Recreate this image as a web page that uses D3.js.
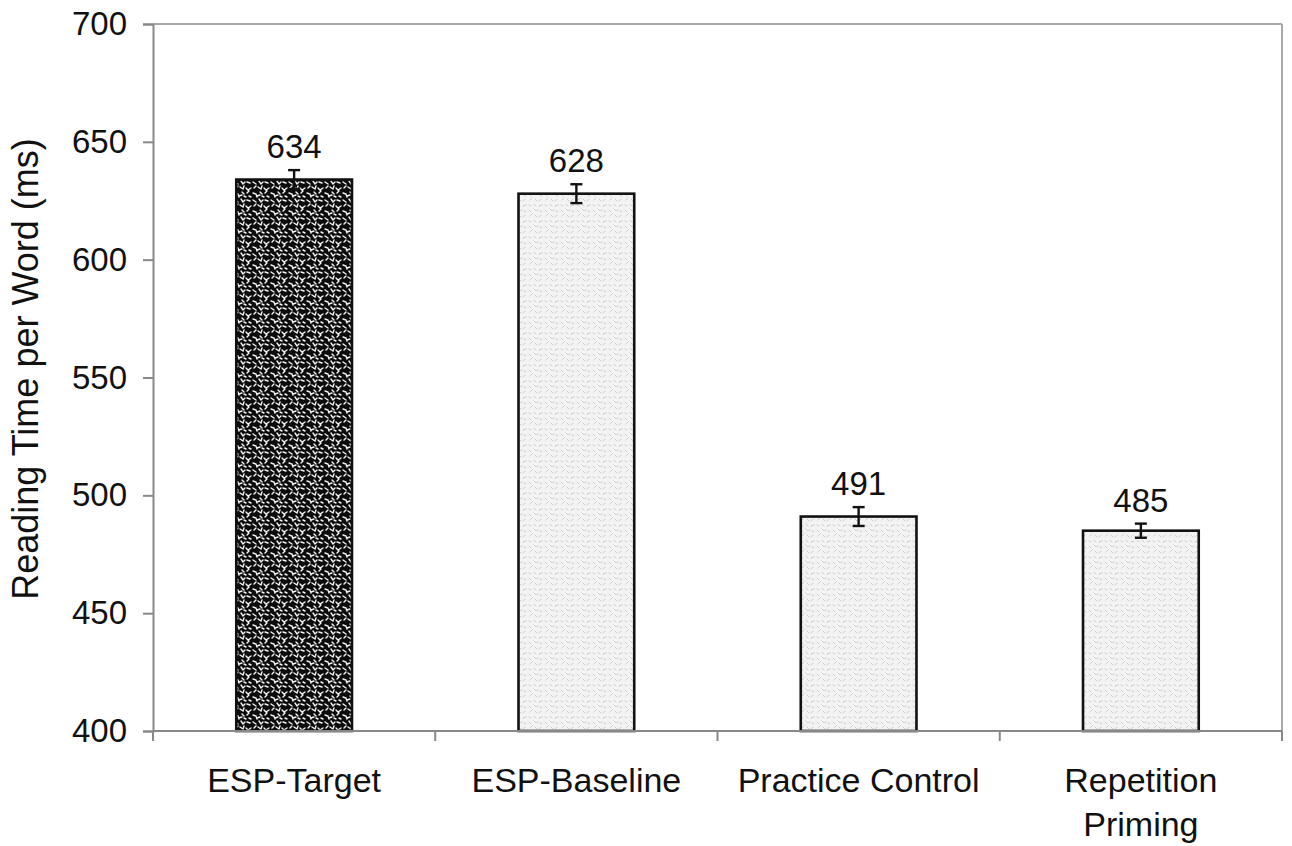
<!DOCTYPE html>
<html>
<head>
<meta charset="utf-8">
<script src="https://cdn.jsdelivr.net/npm/d3@7"></script>
<style>
  html, body { margin: 0; padding: 0; background: #fff; }
  svg { display: block; }
  text { font-family: "Liberation Sans", Arial, sans-serif; fill: #111; }
</style>
</head>
<body>
<svg id="chart" width="1292" height="846"></svg>
<script>
// ---- data ----
const categories = ["ESP-Target", "ESP-Baseline", "Practice Control", "Repetition Priming"];
const categoryLines = [["ESP-Target"], ["ESP-Baseline"], ["Practice Control"], ["Repetition", "Priming"]];
const meanRT = [634, 628, 491, 485];
const stdErr = [4, 4, 4, 3];
const valueLabels = ["634", "628", "491", "485"];
const yTicks = [400, 450, 500, 550, 600, 650, 700];
const yTitle = "Reading Time per Word (ms)";

// ---- layout ----
const svg = d3.select("#chart");
const m = { left: 153, right: 1282, top: 24, bottom: 731 };

const x = d3.scaleBand().domain(categories).range([m.left, m.right])
  .paddingInner(0.59).paddingOuter(0.295);
const y = d3.scaleLinear().domain([400, 700]).range([m.bottom, m.top]);

// ---- patterns ----
const defs = svg.append("defs");
const dark = defs.append("pattern").attr("id", "darkPat").attr("patternUnits", "userSpaceOnUse")
  .attr("width", 18).attr("height", 18);
dark.append("rect").attr("width", 18).attr("height", 18).attr("fill", "#0c0c0c");
const darkMarks = "M1,2 l3,2 M7,1 l2,3 l2,-2 M13,2 l3,1 M2,8 l2,-2 M6,7 l3,2 l1,-3 M12,8 l2,2 l3,-2 M1,13 l3,1 l1,3 M8,12 l2,2 M13,13 l2,-2 M15,16 l2,1 M5,16 l3,-1 M10,16 l2,1";
dark.append("path").attr("d", darkMarks).attr("stroke", "#f4f4f4").attr("stroke-width", 1.4)
  .attr("fill", "none").attr("stroke-linecap", "round");

const light = defs.append("pattern").attr("id", "lightPat").attr("patternUnits", "userSpaceOnUse")
  .attr("width", 16).attr("height", 16);
light.append("rect").attr("width", 16).attr("height", 16).attr("fill", "#f3f3f3");
const lightMarks = "M1,2 l2,2 M6,1 l2,2 l2,-1 M12,3 l2,1 M2,8 l2,-2 M7,7 l2,2 M11,9 l2,-2 M1,13 l2,1 M6,12 l2,2 M11,14 l3,-1";
light.append("path").attr("d", lightMarks).attr("stroke", "#cccccc").attr("stroke-width", 1)
  .attr("fill", "none").attr("stroke-linecap", "round");

// ---- frame (top & right) ----
svg.append("line").attr("x1", m.left).attr("x2", m.right).attr("y1", m.top).attr("y2", m.top)
  .attr("stroke", "#a8a8a8").attr("stroke-width", 2);
svg.append("line").attr("x1", m.right).attr("x2", m.right).attr("y1", m.top).attr("y2", m.bottom)
  .attr("stroke", "#a8a8a8").attr("stroke-width", 2);

// ---- bars ----
svg.append("g").selectAll("rect").data(categories).join("rect")
  .attr("x", d => x(d))
  .attr("width", x.bandwidth())
  .attr("y", (d, i) => y(meanRT[i]))
  .attr("height", (d, i) => y(400) - y(meanRT[i]))
  .attr("fill", (d, i) => i === 0 ? "url(#darkPat)" : "url(#lightPat)")
  .attr("stroke", "#111").attr("stroke-width", 2.6);

// ---- error bars ----
const eb = svg.append("g").attr("stroke", "#111").attr("stroke-width", 2.4);
categories.forEach((c, i) => {
  const cx = x(c) + x.bandwidth() / 2;
  const y1 = y(meanRT[i] + stdErr[i]), y2 = y(meanRT[i] - stdErr[i]);
  eb.append("line").attr("x1", cx).attr("x2", cx).attr("y1", y1).attr("y2", y2);
  eb.append("line").attr("x1", cx - 6).attr("x2", cx + 6).attr("y1", y1).attr("y2", y1);
  eb.append("line").attr("x1", cx - 6).attr("x2", cx + 6).attr("y1", y2).attr("y2", y2);
});

// ---- value labels ----
svg.append("g").selectAll("text").data(categories).join("text")
  .attr("x", d => x(d) + x.bandwidth() / 2)
  .attr("y", (d, i) => y(meanRT[i] + stdErr[i]) - 12)
  .attr("text-anchor", "middle")
  .attr("font-size", 33)
  .text((d, i) => valueLabels[i]);

// ---- y axis ----
const yAxis = svg.append("g").attr("transform", `translate(${m.left},0)`)
  .call(d3.axisLeft(y).tickValues(yTicks).tickSize(10).tickPadding(16).tickFormat(d3.format("d")));
yAxis.select(".domain").attr("stroke", "#888").attr("stroke-width", 2);
yAxis.selectAll(".tick line").attr("stroke", "#888").attr("stroke-width", 2);
yAxis.selectAll(".tick text").attr("font-size", 33).attr("fill", "#111")
  .attr("font-family", "'Liberation Sans', Arial, sans-serif");

// ---- x axis ----
const xAxisG = svg.append("g");
xAxisG.append("line").attr("x1", m.left).attr("x2", m.right).attr("y1", m.bottom).attr("y2", m.bottom)
  .attr("stroke", "#888").attr("stroke-width", 2);
const boundaries = categories.map(c => x(c) - x.step() * x.paddingInner() / 2).concat([m.right]);
xAxisG.selectAll("line.tk").data(boundaries).join("line").attr("class", "tk")
  .attr("x1", d => d).attr("x2", d => d).attr("y1", m.bottom).attr("y2", m.bottom + 10)
  .attr("stroke", "#888").attr("stroke-width", 2);

const xl = svg.append("g").selectAll("text").data(categories).join("text")
  .attr("x", d => x(d) + x.bandwidth() / 2)
  .attr("y", 792)
  .attr("text-anchor", "middle")
  .attr("font-size", 34);
xl.each(function(d, i) {
  d3.select(this).selectAll("tspan").data(categoryLines[i]).join("tspan")
    .attr("x", x(d) + x.bandwidth() / 2)
    .attr("dy", (t, j) => j === 0 ? 0 : 44)
    .text(t => t);
});

// ---- y title ----
svg.append("text")
  .attr("transform", `translate(38,${(135 + 603) / 2}) rotate(-90)`)
  .attr("text-anchor", "middle")
  .attr("font-size", 36)
  .text(yTitle);
</script>
</body>
</html>
